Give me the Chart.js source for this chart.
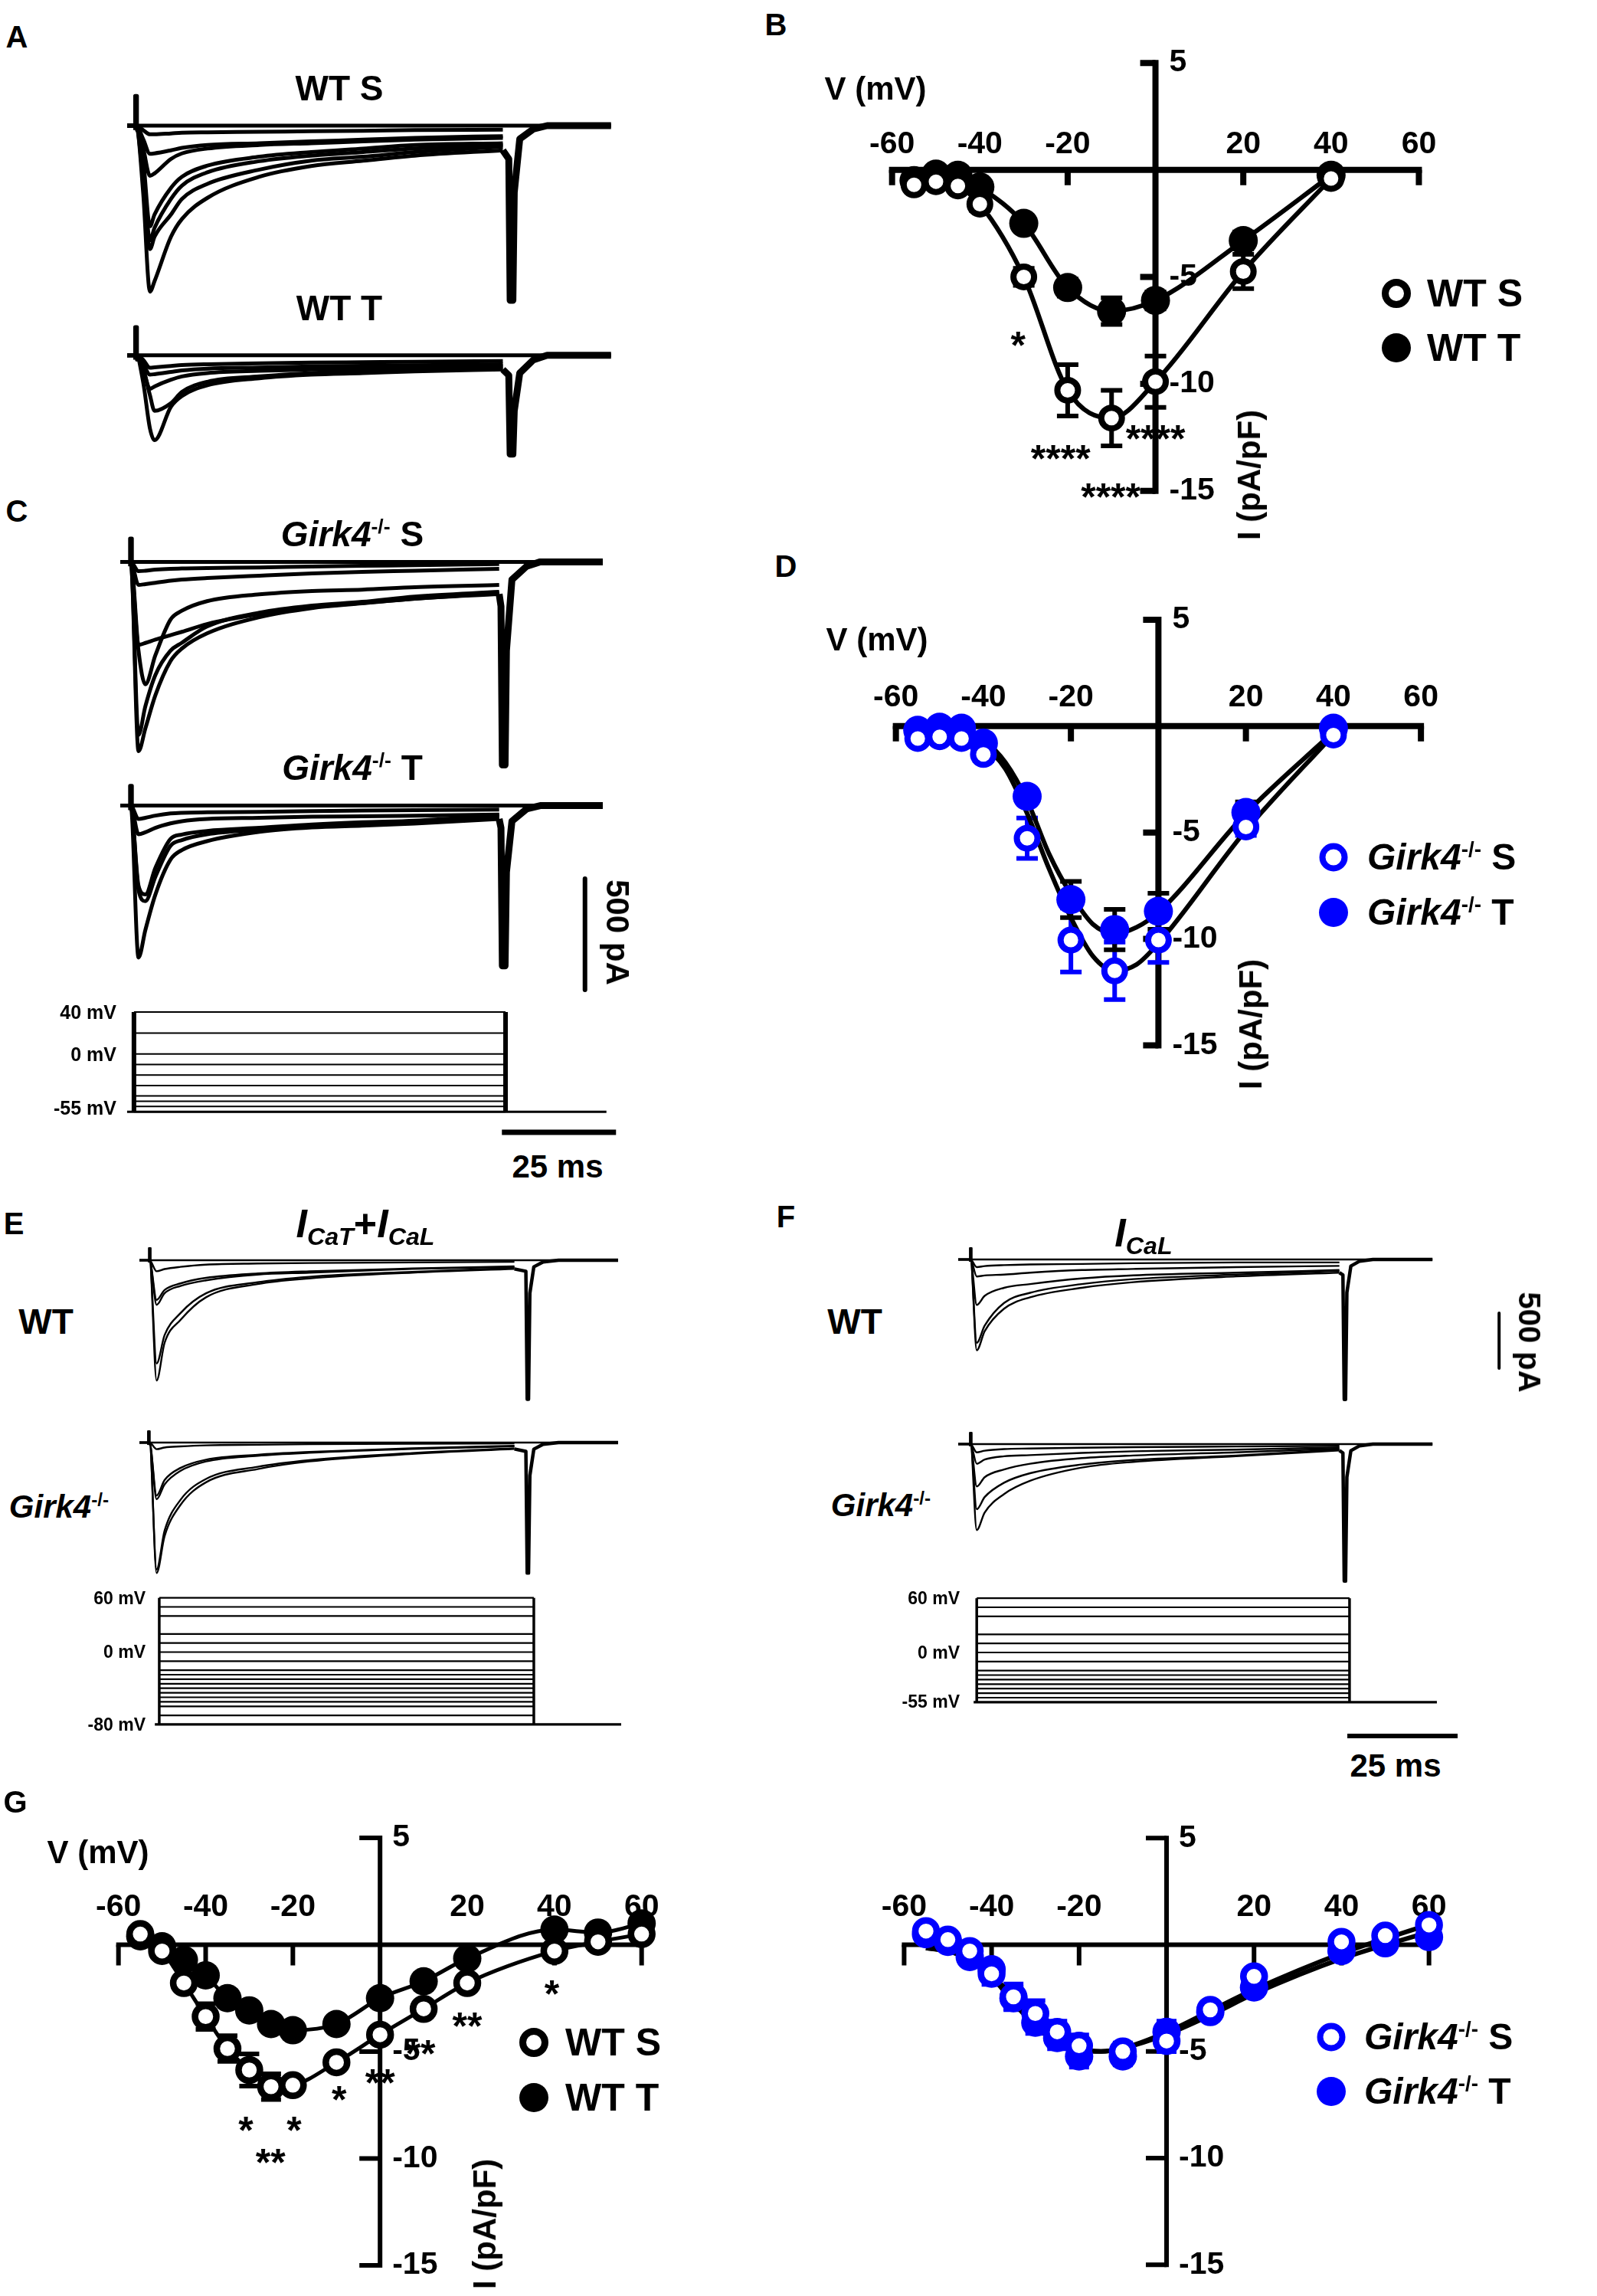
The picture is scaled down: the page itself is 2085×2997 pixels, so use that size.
<!DOCTYPE html>
<html><head><meta charset="utf-8">
<script src="https://cdn.jsdelivr.net/npm/chart.js@4.4.1/dist/chart.umd.min.js"></script>
<style>
html,body{margin:0;padding:0;background:#fff;}
#page{position:relative;width:2085px;height:2997px;overflow:hidden;background:#fff;font-family:"Liberation Sans",Arial,Helvetica,sans-serif;font-weight:bold;color:#000;}
canvas{position:absolute;}
.t{position:absolute;white-space:nowrap;line-height:1;}
.c{transform:translate(-50%,-50%);}
.l{transform:translate(0,-50%);}
.r{transform:translate(-100%,-50%);}
.rot{transform:translate(-50%,-50%) rotate(90deg);}
.rotm{transform:translate(-50%,-50%) rotate(-90deg);}
sup{font-size:0.58em;vertical-align:0.62em;line-height:0;}
sub{font-size:0.62em;vertical-align:-0.32em;line-height:0;}
.dot{position:absolute;border-radius:50%;box-sizing:border-box;transform:translate(-50%,-50%);}
</style></head>
<body><div id="page"></div>
<script>
// ================= DATA =================
// I-V axes
const xTickVals = [-60, -40, -20, 20, 40, 60];
const xTickLabels = ['-60', '-40', '-20', '20', '40', '60'];
const yTickVals = [5, -5, -10, -15];
const yTickLabels = ['5', '-5', '-10', '-15'];

// Panel B : WT, I-V (pA/pF)
const vB = [-55, -50, -45, -40, -30, -20, -10, 0, 20, 40];
const bS = [-0.7, -0.55, -0.75, -1.6, -5.0, -10.3, -11.6, -9.9, -4.75, -0.4];
const bSerr = [0.2, 0.2, 0.2, 0.3, 0.4, 1.2, 1.3, 1.2, 0.8, 0.2];
const bT = [-0.5, -0.2, -0.25, -0.8, -2.5, -5.5, -6.6, -6.1, -3.3, -0.25];
const bTerr = [0.1, 0.1, 0.1, 0.2, 0.3, 0.4, 0.62, 0.4, 0.4, 0.1];
const starsB = [['*', -31.3, -7.8], ['****', -21.6, -13.1], ['****', 0, -12.2], ['****', -10.2, -14.9]];

// Panel D : Girk4-/-, I-V
const vD = [-55, -50, -45, -40, -30, -20, -10, 0, 20, 40];
const dS = [-0.58, -0.5, -0.58, -1.33, -5.27, -10.05, -11.5, -10.05, -4.74, -0.42];
const dSerr = [0.2, 0.2, 0.2, 0.3, 0.95, 1.5, 1.35, 1.05, 0.4, 0.2];
const dT = [-0.2, -0.05, -0.1, -0.8, -3.3, -8.15, -9.56, -8.7, -4.06, -0.1];
const dTerr = [0.1, 0.1, 0.1, 0.2, 0.3, 0.85, 0.95, 0.85, 0.5, 0.1];
const vFitD = [-55, -50, -45, -40, -35, -30, -25, -20, -15, -10, -5, 0, 20, 40];
const dSfit = [-0.05, -0.12, -0.27, -0.9, -2.0, -4.1, -6.7, -9.0, -10.8, -11.5, -11.2, -10.2, -4.9, -0.4];
const dTfit = [-0.05, -0.1, -0.2, -0.65, -1.7, -3.5, -6.0, -7.9, -9.3, -9.75, -9.45, -8.75, -4.1, -0.27];

// Panel G : I-V (WT left, Girk4-/- right)
const vG = [-55, -50, -45, -40, -35, -30, -25, -20, -10, 0, 10, 20, 40, 50, 60];
const gS = [0.5, -0.29, -1.79, -3.36, -4.86, -5.86, -6.64, -6.57, -5.5, -4.21, -3.0, -1.79, -0.29, 0.14, 0.5];
const gSerr = [0.2, 0.2, 0.3, 0.6, 0.6, 0.75, 0.6, 0.3, 0.2, 0.2, 0.2, 0.2, 0.2, 0.2, 0.2];
const gT = [0.4, -0.07, -0.71, -1.43, -2.5, -3.07, -3.71, -4.0, -3.71, -2.5, -1.71, -0.64, 0.71, 0.57, 1.0];
const gTerr = [0.2, 0.2, 0.2, 0.2, 0.2, 0.2, 0.2, 0.2, 0.2, 0.2, 0.2, 0.2, 0.2, 0.2, 0.2];
const starsG = [['*', 39.4, -1.93], ['**', 20, -3.43], ['**', 9.3, -4.71], ['**', 0, -6.07], ['*', -9.4, -6.86], ['*', -30.8, -8.29], ['*', -19.7, -8.29], ['**', -25.1, -9.79]];
const grS = [0.64, 0.24, -0.29, -1.36, -2.44, -3.22, -4.08, -4.73, -5.0, -4.51, -3.05, -1.48, 0.14, 0.43, 0.93];
const grSerr = [0.2, 0.2, 0.2, 0.5, 0.6, 0.6, 0.5, 0.5, 0.4, 0.5, 0.2, 0.3, 0.2, 0.2, 0.2];
const grT = [0.5, 0.14, -0.57, -1.15, -2.5, -3.65, -4.37, -5.23, -5.23, -4.08, -3.15, -2.0, -0.29, 0.07, 0.36];
const grTerr = [0.2, 0.2, 0.2, 0.3, 0.5, 0.5, 0.5, 0.5, 0.4, 0.5, 0.2, 0.2, 0.2, 0.2, 0.2];
const vFitG = [-55, -50, -45, -40, -35, -30, -25, -20, -15, -10, 0, 10, 20, 40, 60];
const grSfit = [-0.15, -0.3, -0.65, -1.4, -2.5, -3.6, -4.4, -4.85, -5.0, -4.85, -4.1, -3.1, -2.1, -0.4, 0.95];
const grTfit = [-0.15, -0.3, -0.7, -1.5, -2.7, -3.8, -4.5, -4.9, -5.0, -4.85, -4.2, -3.3, -2.3, -0.65, 0.6];

// Current traces (time ms, current pA)
const tA = [0, 2, 3.5, 5, 6, 9.6, 12, 17.6, 29, 40.3, 51.7, 63, 82.3];
const tracesAS = [
  [0, 0, -300, -747, -700, -500, -420, -325, -230, -182, -158, -135, -111],
  [0, 0, -250, -556, -500, -400, -330, -262, -198, -158, -140, -119, -95],
  [0, 0, -200, -516, -460, -330, -270, -210, -160, -135, -119, -103, -87],
  [0, 0, -150, -453, -400, -280, -230, -180, -140, -119, -103, -87, -79],
  [0, 0, -100, -226, -215, -150, -125, -103, -87, -79, -71, -63, -55],
  [0, 0, -60, -127, -125, -111, -100, -87, -79, -71, -63, -55, -47],
  [0, 0, -20, -39, -39, -35, -32, -30, -28, -25, -23, -20, -18]
];
const tracesAT = [
  [0, 0, -120, -330, -382, -231, -183, -135, -103, -87, -80, -72, -64],
  [0, 0, -60, -180, -250, -215, -165, -119, -95, -80, -72, -66, -58],
  [0, 0, -60, -151, -140, -110, -95, -80, -70, -64, -59, -55, -48],
  [0, 0, -40, -87, -85, -75, -68, -60, -55, -50, -47, -45, -40],
  [0, 0, -20, -56, -54, -48, -44, -40, -36, -33, -31, -29, -26]
];
const tailTA = [82.3, 83.6, 83.9, 84.5, 84.8, 86, 89, 92, 106];
const tailAS = [-111, -150, -786, -786, -300, -60, -15, 0, 0];
const tailAT = [-64, -90, -445, -445, -250, -80, -20, 0, 0];
const artAS = [1.9, 134];
const artAT = [1.9, 127];

const tC = [0, 2.3, 4, 5.5, 7.7, 11, 13.5, 19, 30.5, 42, 53, 64.5, 83];
const tracesCS = [
  [0, 0, -852, -750, -600, -447, -390, -322, -249, -208, -187, -166, -145],
  [0, 0, -779, -650, -509, -400, -364, -291, -229, -197, -180, -156, -135],
  [0, 0, -400, -551, -420, -260, -220, -177, -146, -131, -125, -114, -104],
  [0, 0, -374, -365, -350, -330, -315, -280, -235, -205, -185, -166, -140],
  [0, 0, -104, -100, -94, -85, -80, -73, -62, -52, -45, -40, -31],
  [0, 0, -42, -40, -35, -31, -30, -28, -25, -21, -18, -15, -10]
];
const tracesCT = [
  [0, 0, -684, -560, -400, -243, -200, -160, -118, -98, -90, -81, -60],
  [0, 0, -380, -430, -320, -181, -155, -129, -108, -91, -83, -73, -52],
  [0, 0, -360, -400, -280, -150, -130, -114, -100, -85, -75, -68, -42],
  [0, 0, -129, -120, -100, -80, -70, -60, -55, -50, -48, -45, -40],
  [0, 0, -60, -55, -45, -35, -32, -30, -28, -25, -22, -20, -18]
];
const tailTC = [83, 83.4, 83.7, 84.3, 84.6, 85.8, 89, 92, 105.7];
const tailCS = [-145, -200, -914, -914, -400, -80, -20, 0, 0];
const tailCT = [-60, -100, -721, -721, -300, -70, -15, 0, 0];
const artCS = [2.3, 105];
const artCT = [2.3, 89];

const tE = [0, 2.3, 3.9, 5.7, 9.3, 15.1, 26.8, 38.5, 61.8, 85];
const tracesEW = [
  [0, 0, -1090, -750, -542, -336, -216, -165, -113, -79],
  [0, 0, -936, -680, -480, -300, -200, -150, -105, -70],
  [0, 0, -405, -300, -233, -182, -130, -113, -79, -62],
  [0, 0, -360, -270, -210, -160, -120, -100, -75, -55],
  [0, 0, -100, -80, -60, -40, -30, -25, -20, -15]
];
const tracesEG = [
  [0, 0, -1183, -850, -566, -360, -240, -171, -103, -58],
  [0, 0, -1150, -800, -520, -330, -220, -160, -95, -52],
  [0, 0, -514, -380, -257, -171, -120, -93, -58, -34],
  [0, 0, -480, -340, -230, -155, -110, -85, -52, -30],
  [0, 0, -60, -45, -35, -25, -20, -15, -10, -8]
];
const tailTE = [85, 87.6, 87.9, 88.2, 88.5, 89.4, 91.5, 95, 108.5];
const tailEW = [-79, -100, -1260, -1260, -300, -60, -15, 0, 0];
const tailEG = [-58, -80, -1183, -1183, -300, -60, -15, 0, 0];
const artEW = [2.3, 110];
const artEG = [2.1, 103];

const tF = [0, 2.8, 4.2, 6, 10.4, 16.3, 28, 39.7, 63, 86.4];
const tracesFW = [
  [0, 0, -823, -650, -446, -343, -257, -206, -154, -120],
  [0, 0, -755, -600, -394, -302, -223, -178, -137, -103],
  [0, 0, -412, -330, -257, -223, -172, -144, -120, -96],
  [0, 0, -154, -145, -137, -120, -96, -86, -69, -58],
  [0, 0, -69, -60, -51, -45, -41, -34, -27, -27]
];
const tracesFG = [
  [0, 0, -779, -620, -453, -333, -213, -161, -110, -58],
  [0, 0, -590, -480, -350, -264, -185, -144, -103, -48],
  [0, 0, -384, -300, -230, -178, -127, -103, -75, -41],
  [0, 0, -178, -140, -110, -100, -80, -65, -50, -30],
  [0, 0, -75, -60, -45, -40, -33, -28, -22, -15]
];
const tailTF = [86.4, 87.2, 87.5, 87.8, 88.1, 89, 91, 94, 107.5];
const tailFW = [-120, -140, -1269, -1269, -300, -60, -15, 0, 0];
const tailFG = [-58, -80, -1242, -1242, -300, -60, -15, 0, 0];
const artFW = [2.8, 103];
const artFG = [2.8, 103];

// Voltage protocols (mV) and timing [start, on, off, end] (ms)
const stepsC = [40, 20, 0, -10, -20, -30, -40, -45, -50, -55];
const holdC = -55;
const timesC = [1.5, 3.0, 84.4, 106.5];
const stepsE = [60, 50, 40, 20, 10, 0, -10, -20, -25, -30, -35, -40, -45, -50, -55, -60, -70];
const holdE = -80;
const timesE = [3.5, 4.5, 89.4, 109.2];
const stepsF = [60, 50, 40, 20, 10, 0, -10, -20, -25, -30, -35, -40, -45, -50];
const holdF = -55;
const timesF = [3.5, 4.2, 88.7, 108.5];

// Scale bar magnitudes
const scaleTime = 25;     // ms
const scaleCurrent = 500; // pA

// ================= LAYOUT / STYLE =================
const page = document.getElementById('page');
const FONT = '"Liberation Sans", Arial, Helvetica, sans-serif';
const BLUE = '#0000ff';

function pts(xs, ys) { return xs.map((x, i) => ({x: x, y: ys[i]})); }

function line(data, lw, smooth, color) {
  return {data: data, showLine: true, borderColor: color || '#000', borderWidth: lw, pointRadius: 0,
    cubicInterpolationMode: smooth ? 'monotone' : 'default', tension: 0, clip: false,
    borderJoinStyle: 'round', borderCapStyle: 'butt', order: 3};
}

function makeChart(rect, map, datasets, plugins) {
  const c = document.createElement('canvas');
  c.width = rect.w; c.height = rect.h;
  c.style.left = rect.x + 'px'; c.style.top = rect.y + 'px';
  c.style.width = rect.w + 'px'; c.style.height = rect.h + 'px';
  page.appendChild(c);
  const xMin = (rect.x - map.x0) / map.sx, xMax = (rect.x + rect.w - map.x0) / map.sx;
  const yMax = (map.y0 - rect.y) / map.sy, yMin = -(rect.y + rect.h - map.y0) / map.sy;
  return new Chart(c, {
    type: 'scatter',
    data: {datasets: datasets},
    options: {
      responsive: false, animation: false, events: [],
      layout: {padding: 0},
      plugins: {legend: {display: false}, tooltip: {enabled: false}},
      scales: {
        x: {type: 'linear', display: false, min: xMin, max: xMax, bounds: 'data'},
        y: {type: 'linear', display: false, min: yMin, max: yMax, bounds: 'data'}
      }
    },
    plugins: plugins || []
  });
}

function ivPlugin(cfg) {
  return {
    id: 'ivAxes',
    beforeDatasetsDraw(chart) {
      const ctx = chart.ctx, xs = chart.scales.x, ys = chart.scales.y;
      const X = v => xs.getPixelForValue(v), Y = v => ys.getPixelForValue(v);
      ctx.save();
      ctx.strokeStyle = '#000';
      ctx.lineWidth = cfg.lw; ctx.lineCap = 'square';
      ctx.beginPath();
      ctx.moveTo(X(-60), Y(0)); ctx.lineTo(X(60), Y(0));
      ctx.moveTo(X(0), Y(5)); ctx.lineTo(X(0), Y(-15));
      ctx.stroke();
      ctx.lineCap = 'butt';
      ctx.beginPath();
      xTickVals.forEach(v => { ctx.moveTo(X(v), Y(0)); ctx.lineTo(X(v), Y(0) + cfg.tick); });
      yTickVals.forEach(v => { ctx.moveTo(X(0), Y(v)); ctx.lineTo(X(0) - cfg.tick, Y(v)); });
      ctx.stroke();
      ctx.fillStyle = '#000';
      ctx.font = 'bold ' + cfg.fs + 'px ' + FONT;
      ctx.textAlign = 'center'; ctx.textBaseline = 'middle';
      xTickVals.forEach((v, i) => ctx.fillText(xTickLabels[i], X(v), Y(0) - cfg.xlab));
      ctx.textAlign = 'left';
      yTickVals.forEach((v, i) => ctx.fillText(yTickLabels[i], X(0) + cfg.ylab, Y(v)));
      chart.data.datasets.forEach(ds => {
        if (!ds.errors) return;
        ctx.strokeStyle = ds.errColor; ctx.lineWidth = cfg.elw;
        ctx.beginPath();
        ds.data.forEach((p, i) => {
          const e = ds.errors[i];
          const px = X(p.x), t = Y(p.y + e), b = Y(p.y - e), h = cfg.cap / 2;
          ctx.moveTo(px, t); ctx.lineTo(px, b);
          ctx.moveTo(px - h, t); ctx.lineTo(px + h, t);
          ctx.moveTo(px - h, b); ctx.lineTo(px + h, b);
        });
        ctx.stroke();
      });
      ctx.restore();
    },
    afterDatasetsDraw(chart) {
      if (!cfg.stars) return;
      const ctx = chart.ctx, xs = chart.scales.x, ys = chart.scales.y;
      ctx.save();
      ctx.fillStyle = '#000';
      ctx.font = 'bold ' + cfg.sfs + 'px ' + FONT;
      ctx.textAlign = 'center'; ctx.textBaseline = 'alphabetic';
      cfg.stars.forEach(s => ctx.fillText(s[0], xs.getPixelForValue(s[1]), ys.getPixelForValue(s[2]) + 0.56 * cfg.sfs));
      ctx.restore();
    }
  };
}

function openSet(data, color, r, bw, errs, errColor) {
  return {data: data, showLine: false, pointStyle: 'circle', pointRadius: r, pointBorderWidth: bw,
    pointBackgroundColor: '#fff', pointBorderColor: color, errors: errs, errColor: errColor, order: 1, clip: false};
}
function filledSet(data, color, r, errs, errColor) {
  return {data: data, showLine: false, pointStyle: 'circle', pointRadius: r, pointBorderWidth: 0,
    pointBackgroundColor: color, pointBorderColor: color, errors: errs, errColor: errColor, order: 2, clip: false};
}

function traceSets(tGrid, traces, tailT, tail, art, lw, tailLw) {
  const end = tailT[tailT.length - 1];
  const sets = [line([{x: 0, y: 0}, {x: end, y: 0}], lw, false)];
  traces.forEach(tr => sets.push(line(pts(tGrid, tr), lw, true)));
  sets.push(line(pts(tailT, tail), tailLw, false));
  sets.push(line([{x: art[0] - 0.15, y: -20}, {x: art[0] - 0.15, y: art[1]}, {x: art[0] + 0.25, y: art[1]}, {x: art[0] + 0.25, y: -20}], lw, false));
  return sets;
}

function protoSets(steps, hold, times, lwH, lwE) {
  const ts = times[0], ton = times[1], toff = times[2], te = times[3];
  const top = Math.max.apply(null, steps);
  const sets = steps.map(v => line([{x: ton, y: v}, {x: toff, y: v}], lwH, false));
  sets.push(line([{x: ts, y: hold}, {x: te, y: hold}], lwH + 1, false));
  sets.push(line([{x: ton, y: hold}, {x: ton, y: top}], lwE, false));
  sets.push(line([{x: toff, y: hold}, {x: toff, y: top}], lwE, false));
  return sets;
}

// ---------- Panel A ----------
makeChart({x: 150, y: 100, w: 680, h: 300}, {x0: 166, y0: 164, sx: 5.96, sy: 0.29},
  traceSets(tA, tracesAS, tailTA, tailAS, artAS, 5, 9));
makeChart({x: 150, y: 410, w: 680, h: 200}, {x0: 166, y0: 463.8, sx: 5.96, sy: 0.29},
  traceSets(tA, tracesAT, tailTA, tailAT, artAT, 5, 9));

// ---------- Panel C ----------
makeChart({x: 140, y: 690, w: 700, h: 320}, {x0: 157, y0: 733.4, sx: 5.96, sy: 0.29},
  traceSets(tC, tracesCS, tailTC, tailCS, artCS, 5, 9));
const barCI = {t: 101.8, i: -329};
makeChart({x: 140, y: 1015, w: 700, h: 285}, {x0: 157, y0: 1051.6, sx: 5.96, sy: 0.29},
  traceSets(tC, tracesCT, tailTC, tailCT, artCT, 5, 9).concat([
    line([{x: barCI.t, y: barCI.i}, {x: barCI.t, y: barCI.i - scaleCurrent}], 6, false)]));
const barCT = {t: 83.6, v: -74.6};
makeChart({x: 140, y: 1305, w: 700, h: 190}, {x0: 157, y0: 1375.8, sx: 5.96, sy: 1.37},
  protoSets(stepsC, holdC, timesC, 2, 6).concat([
    line([{x: barCT.t, y: barCT.v}, {x: barCT.t + scaleTime, y: barCT.v}], 7, false)]));

// ---------- Panel E ----------
makeChart({x: 170, y: 1610, w: 680, h: 240}, {x0: 182, y0: 1645, sx: 5.76, sy: 0.144},
  traceSets(tE, tracesEW, tailTE, tailEW, artEW, 2.4, 4.5));
makeChart({x: 170, y: 1860, w: 680, h: 215}, {x0: 182, y0: 1883, sx: 5.76, sy: 0.144},
  traceSets(tE, tracesEG, tailTE, tailEG, artEG, 2.4, 4.5));
makeChart({x: 190, y: 2075, w: 660, h: 190}, {x0: 182, y0: 2156.5, sx: 5.76, sy: 1.18},
  protoSets(stepsE, holdE, timesE, 2.2, 3.5));

// ---------- Panel F ----------
const barFI = {t: 122.6, i: -486};
makeChart({x: 1240, y: 1610, w: 760, h: 240}, {x0: 1251, y0: 1644, sx: 5.76, sy: 0.144},
  traceSets(tF, tracesFW, tailTF, tailFW, artFW, 2.4, 4.5).concat([
    line([{x: barFI.t, y: barFI.i}, {x: barFI.t, y: barFI.i - scaleCurrent}], 4, false)]));
makeChart({x: 1240, y: 1860, w: 700, h: 215}, {x0: 1251, y0: 1885, sx: 5.76, sy: 0.144},
  traceSets(tF, tracesFG, tailTF, tailFG, artFG, 2.4, 4.5));
const barFT = {t: 88.2, v: -92.4};
makeChart({x: 1260, y: 2075, w: 680, h: 205}, {x0: 1251, y0: 2157, sx: 5.76, sy: 1.18},
  protoSets(stepsF, holdF, timesF, 2.2, 3.5).concat([
    line([{x: barFT.t, y: barFT.v}, {x: barFT.t + scaleTime, y: barFT.v}], 6, false)]));

// ---------- Panel B ----------
makeChart({x: 1050, y: 0, w: 1035, h: 720}, {x0: 1506, y0: 213, sx: 5.98, sy: 29.7}, [
  openSet(pts(vB, bS), '#000', 13.5, 8, bSerr, '#000'),
  filledSet(pts(vB, bT), '#000', 19, bTerr, '#000'),
  line(pts(vB, bS), 6, true),
  line(pts(vB, bT), 6, true)
], [ivPlugin({lw: 8, tick: 20, fs: 41, xlab: 33, ylab: 18, elw: 6, cap: 28, sfs: 50, stars: starsB})]);

// ---------- Panel D ----------
makeChart({x: 1050, y: 740, w: 1035, h: 700}, {x0: 1510, y0: 938.5, sx: 5.96, sy: 29.6}, [
  openSet(pts(vD, dS), BLUE, 13.5, 8, dSerr, BLUE),
  filledSet(pts(vD, dT), BLUE, 19, dTerr, '#000'),
  line(pts(vFitD, dSfit), 6, true),
  line(pts(vFitD, dTfit), 6, true)
], [ivPlugin({lw: 8, tick: 20, fs: 41, xlab: 37, ylab: 18, elw: 6, cap: 28, sfs: 50})]);

// ---------- Panel G left ----------
makeChart({x: 0, y: 2340, w: 1000, h: 657}, {x0: 496, y0: 2529, sx: 5.96, sy: 29.94}, [
  openSet(pts(vG, gS), '#000', 14, 8.5, gSerr, '#000'),
  filledSet(pts(vG, gT), '#000', 18.5, gTerr, '#000'),
  line(pts(vG, gS), 5, true),
  line(pts(vG, gT), 5, true)
], [ivPlugin({lw: 6, tick: 27, fs: 41, xlab: 49, ylab: 16, elw: 6, cap: 26, sfs: 50, stars: starsG})]);

// ---------- Panel G right ----------
makeChart({x: 1050, y: 2340, w: 1035, h: 657}, {x0: 1521, y0: 2529, sx: 5.97, sy: 29.9}, [
  openSet(pts(vG, grS), BLUE, 14, 8.5, grSerr, BLUE),
  filledSet(pts(vG, grT), BLUE, 18.5, grTerr, BLUE),
  line(pts(vFitG, grSfit), 6, true),
  line(pts(vFitG, grTfit), 6, true)
], [ivPlugin({lw: 6, tick: 27, fs: 41, xlab: 49, ylab: 16, elw: 6, cap: 26, sfs: 50})]);

// ================= TEXT =================
function txt(html, x, y, size, cls) {
  const d = document.createElement('div');
  d.className = 't ' + (cls || 'c');
  d.style.left = x + 'px'; d.style.top = y + 'px'; d.style.fontSize = size + 'px';
  d.innerHTML = html;
  page.appendChild(d);
}
function dot(x, y, d, color, open, bw) {
  const e = document.createElement('div');
  e.className = 'dot';
  e.style.left = x + 'px'; e.style.top = y + 'px';
  e.style.width = d + 'px'; e.style.height = d + 'px';
  if (open) { e.style.border = bw + 'px solid ' + color; e.style.background = '#fff'; }
  else { e.style.background = color; }
  page.appendChild(e);
}
const GIRK = '<i>Girk4</i><sup>-/-</sup>';

txt('A', 22, 48, 40); txt('B', 1013, 32, 40); txt('C', 22, 667, 40); txt('D', 1026, 739, 40);
txt('E', 18, 1597, 40); txt('F', 1026, 1588, 40); txt('G', 20, 2352, 40);

txt('WT S', 443, 115, 46); txt('WT T', 443, 402, 46);
txt(GIRK + ' S', 460, 697, 46); txt(GIRK + ' T', 460, 1002, 46);
txt('40 mV', 152, 1321, 25, 'r'); txt('0 mV', 152, 1376, 25, 'r'); txt('-55 mV', 152, 1446, 25, 'r');
txt('500 pA', 806, 1217, 42, 'rot');
txt('25 ms', 728, 1523, 42);

txt('<i>I</i><sub><i>CaT</i></sub>+<i>I</i><sub><i>CaL</i></sub>', 477, 1597, 52);
txt('<i>I</i><sub><i>CaL</i></sub>', 1493, 1609, 52);
txt('WT', 60, 1725, 46); txt('WT', 1116, 1725, 46);
txt(GIRK, 77, 1967, 42); txt(GIRK, 1150, 1965, 42);
txt('60 mV', 190, 2086, 23, 'r'); txt('0 mV', 190, 2156, 23, 'r'); txt('-80 mV', 190, 2251, 23, 'r');
txt('60 mV', 1253, 2086, 23, 'r'); txt('0 mV', 1253, 2157, 23, 'r'); txt('-55 mV', 1253, 2221, 23, 'r');
txt('500 pA', 1997, 1752, 40, 'rot');
txt('25 ms', 1822, 2305, 42);

txt('V (mV)', 1143, 116, 42); txt('V (mV)', 1145, 835, 42); txt('V (mV)', 128, 2418, 42);
txt('I (pA/pF)', 1631, 620, 42, 'rotm'); txt('I (pA/pF)', 1633, 1337, 42, 'rotm'); txt('I (pA/pF)', 633, 2903, 42, 'rotm');

// legends
dot(1823, 383, 38, '#000', true, 9); dot(1823, 454, 38, '#000', false);
txt('WT S', 1863, 383, 50, 'l'); txt('WT T', 1863, 454, 50, 'l');
dot(1741, 1119, 37, BLUE, true, 8); dot(1741, 1191, 38, BLUE, false);
txt(GIRK + ' S', 1785, 1119, 48, 'l'); txt(GIRK + ' T', 1785, 1191, 48, 'l');
dot(697, 2666, 38, '#000', true, 9); dot(697, 2738, 38, '#000', false);
txt('WT S', 738, 2666, 50, 'l'); txt('WT T', 738, 2738, 50, 'l');
dot(1738, 2659, 37, BLUE, true, 8); dot(1738, 2730, 38, BLUE, false);
txt(GIRK + ' S', 1781, 2659, 48, 'l'); txt(GIRK + ' T', 1781, 2730, 48, 'l');
</script></body></html>
